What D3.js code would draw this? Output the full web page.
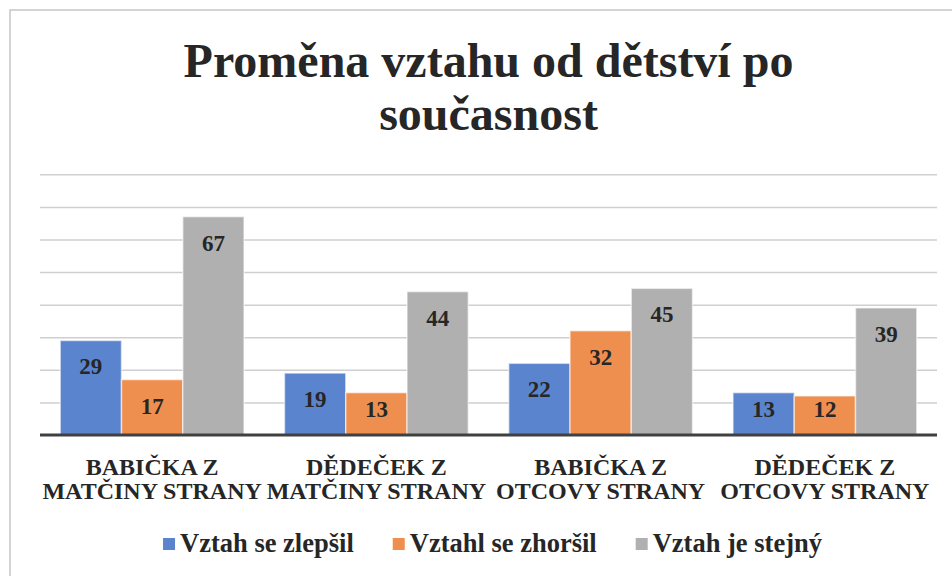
<!DOCTYPE html>
<html>
<head>
<meta charset="utf-8">
<script src="https://cdn.jsdelivr.net/npm/d3@7"></script>
<style>
  body { margin: 0; background: #fff; }
  text { font-family: "Liberation Serif", "Times New Roman", serif; font-weight: bold; fill: #262626; }
</style>
</head>
<body>
<script>
// data
var categories = [["BABIČKA Z", "MATČINY STRANY"], ["DĚDEČEK Z", "MATČINY STRANY"], ["BABIČKA Z", "OTCOVY STRANY"], ["DĚDEČEK Z", "OTCOVY STRANY"]];
var seriesNames = ["Vztah se zlepšil", "Vztahl se zhoršil", "Vztah je stejný"];
var improved = [29, 19, 22, 13];
var worse = [17, 13, 32, 12];
var same = [67, 44, 45, 39];
var colors = ["#5b84cf", "#ef8f4f", "#b0b0b0"];
var titleLines = ["Proměna vztahu od dětství po", "současnost"];

var W = 952, H = 576;
var margin = { left: 40, right: 15, top: 174.3, bottom: 141 };
var plotW = W - margin.left - margin.right;
var plotH = H - margin.top - margin.bottom;

var svg = d3.select("body").append("svg")
  .attr("width", W)
  .attr("height", H);

// chart frame, cut off on the right and bottom like the source
svg.append("rect")
  .attr("x", 10).attr("y", 10)
  .attr("width", 980).attr("height", 620)
  .attr("fill", "#fff")
  .attr("stroke", "#c6c6c6")
  .attr("stroke-width", 1.5);

svg.selectAll(".title")
  .data(titleLines)
  .enter().append("text")
  .attr("class", "title")
  .attr("x", 488.5)
  .attr("y", (d, i) => 77 + i * 53)
  .attr("text-anchor", "middle")
  .style("font-size", "48px")
  .text(d => d);

var g = svg.append("g")
  .attr("transform", "translate(" + margin.left + "," + margin.top + ")");

var x0 = d3.scaleBand().domain(d3.range(categories.length)).range([0, plotW]);
var x1 = d3.scaleBand().domain(d3.range(seriesNames.length)).range([0, x0.bandwidth()]).paddingOuter(0.33);
var y = d3.scaleLinear().domain([0, 80]).range([plotH, 0]);

// gridlines
var yAxis = d3.axisLeft(y).tickValues(d3.range(10, 81, 10)).tickSize(-plotW).tickFormat("");
g.append("g")
  .attr("class", "grid")
  .call(yAxis)
  .call(a => a.select(".domain").remove())
  .call(a => a.selectAll("line").attr("stroke", "#cfcfcf").attr("stroke-width", 1.5));

var rows = categories.map((c, i) => [improved[i], worse[i], same[i]]);

var groups = g.selectAll(".cat")
  .data(rows)
  .enter().append("g")
  .attr("class", "cat")
  .attr("transform", (d, i) => "translate(" + x0(i) + ",0)");

groups.selectAll("rect")
  .data(d => d)
  .enter().append("rect")
  .attr("x", (d, j) => x1(j))
  .attr("y", d => y(d))
  .attr("width", x1.bandwidth())
  .attr("height", d => plotH - y(d))
  .attr("fill", (d, j) => colors[j])
  .attr("stroke", "#fff")
  .attr("stroke-opacity", 0.55)
  .attr("stroke-width", 1.5);

// value labels, pushed up from the baseline on short bars
groups.selectAll(".val")
  .data(d => d)
  .enter().append("text")
  .attr("class", "val")
  .attr("x", (d, j) => x1(j) + x1.bandwidth() / 2)
  .attr("y", d => Math.min(y(d) + 26, plotH - 26) + 8)
  .attr("text-anchor", "middle")
  .style("font-size", "23px")
  .text(d => d);

// baseline
g.append("line")
  .attr("x1", 0).attr("x2", plotW)
  .attr("y1", plotH).attr("y2", plotH)
  .attr("stroke", "#404040")
  .attr("stroke-width", 3);

// category labels
var xAxis = g.append("g").attr("transform", "translate(0," + plotH + ")");
categories.forEach((c, i) => {
  xAxis.append("text")
    .attr("x", x0(i) + x0.bandwidth() / 2)
    .attr("text-anchor", "middle")
    .style("font-size", "24px")
    .selectAll("tspan")
    .data(c)
    .enter().append("tspan")
    .attr("x", x0(i) + x0.bandwidth() / 2)
    .attr("y", (d, k) => 40 + k * 24)
    .text(d => d);
});

// legend
var legend = svg.append("g").attr("class", "legend");
var lx = 0;
seriesNames.forEach((name, i) => {
  var item = legend.append("g").attr("transform", "translate(" + lx + ",0)");
  item.append("rect")
    .attr("x", 0).attr("y", -14)
    .attr("width", 12).attr("height", 12)
    .attr("fill", colors[i]);
  var t = item.append("text")
    .attr("x", 17).attr("y", 0)
    .style("font-size", "26.5px")
    .text(name);
  lx += 17 + t.node().getComputedTextLength() + 39;
});
lx -= 39;
legend.attr("transform", "translate(" + (492.5 - lx / 2) + ",552)");
</script>
</body>
</html>
